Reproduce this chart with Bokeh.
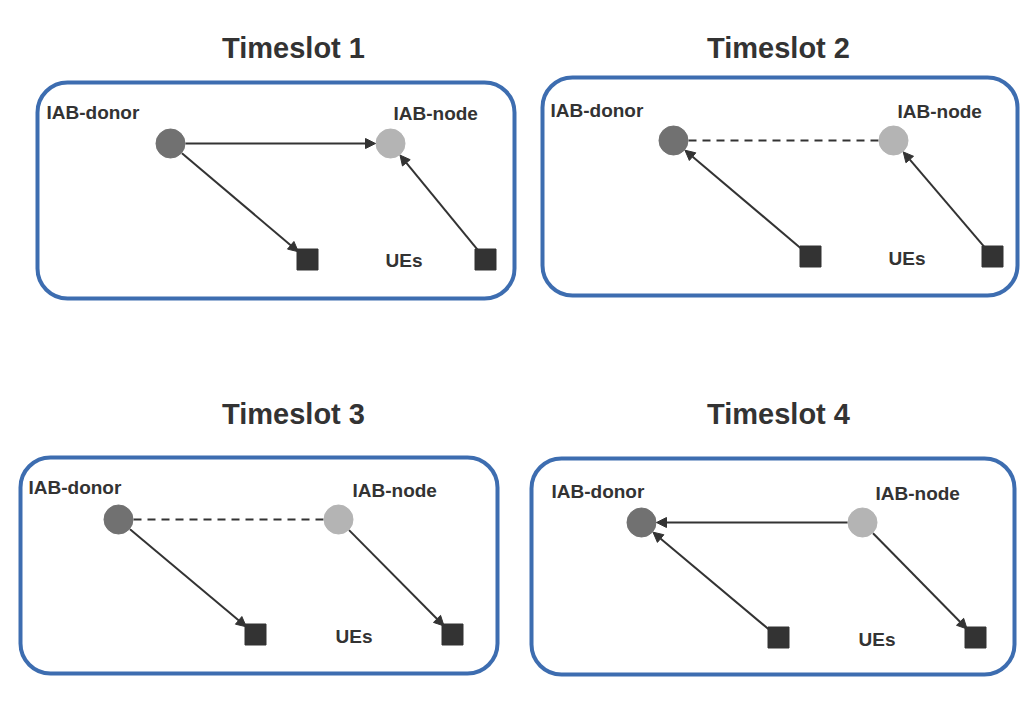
import math

from bokeh.core.properties import value
from bokeh.embed import file_html
from bokeh.models import Arrow, BoxAnnotation, NormalHead, Range1d
from bokeh.plotting import figure
from bokeh.resources import INLINE

# panel boxes: left, right, top, bottom (image pixels)
panels = [(37, 514, 82, 298), (542, 1017, 77, 295), (20, 497, 457, 673), (531, 1014, 458, 674)]
titles = ["Timeslot 1", "Timeslot 2", "Timeslot 3", "Timeslot 4"]
title_pos = [(293, 47), (778, 47), (293, 413), (778, 413)]

donors = [(170, 143), (673, 140), (118, 519), (641, 522)]
nodes = [(390, 143), (893, 140), (338, 519), (862, 522)]
ue_a = [(307, 259), (810, 256), (255, 634), (778, 637)]
ue_b = [(485, 259), (992, 256), (452, 634), (975, 637)]

donor_lbl = [(46, 112), (550, 110), (28, 487), (551, 491)]
node_lbl = [(393, 113), (897, 111), (352, 490), (875, 493)]
ue_lbl = [(385, 260), (888, 258), (335, 636), (858, 639)]

# links per timeslot: (from, to, style) with D=donor, N=node, A/B=UEs
links = [
    [("D", "N", "solid"), ("D", "A", "solid"), ("B", "N", "solid")],
    [("D", "N", "dashed"), ("A", "D", "solid"), ("B", "N", "solid")],
    [("D", "N", "dashed"), ("D", "A", "solid"), ("N", "B", "solid")],
    [("N", "D", "solid"), ("A", "D", "solid"), ("N", "B", "solid")],
]

p = figure(width=1020, height=708, x_range=Range1d(0, 1020), y_range=Range1d(708, 0),
           output_backend="svg", toolbar_location=None, min_border=0)
p.axis.visible = False
p.grid.visible = False
p.outline_line_color = None

dark = "#333333"
font = value("Liberation Sans")

for i in range(4):
    l, r, t, b = panels[i]
    p.add_layout(BoxAnnotation(left=l, right=r, top=t, bottom=b, fill_alpha=0,
                               line_color="#3d6db0", line_alpha=1, line_width=4,
                               border_radius=30))
    pts = {"D": donors[i], "N": nodes[i], "A": ue_a[i], "B": ue_b[i]}
    rad = {"D": 15, "N": 15, "A": 12, "B": 12}
    for f, to, style in links[i]:
        (x0, y0), (x1, y1) = pts[f], pts[to]
        d = math.hypot(x1 - x0, y1 - y0)
        ux, uy = (x1 - x0) / d, (y1 - y0) / d
        xs, ys = x0 + ux * rad[f], y0 + uy * rad[f]
        xe, ye = x1 - ux * rad[to], y1 - uy * rad[to]
        if style == "dashed":
            p.line([xs, xe], [ys, ye], line_color=dark, line_width=2, line_dash="8 6")
        else:
            p.add_layout(Arrow(end=NormalHead(size=10, fill_color=dark, line_color=dark),
                               x_start=xs, y_start=ys, x_end=xe, y_end=ye,
                               line_color=dark, line_width=2))

p.scatter([d[0] for d in donors], [d[1] for d in donors], size=29, color="#717171")
p.scatter([n[0] for n in nodes], [n[1] for n in nodes], size=29, color="#b4b4b4")
p.scatter([u[0] for u in ue_a + ue_b], [u[1] for u in ue_a + ue_b], marker="square",
          size=21, color=dark)

p.text([t[0] for t in title_pos], [t[1] for t in title_pos], text=titles, text_font=font,
       text_font_style="bold", text_font_size="29px", text_color=dark,
       text_align="center", text_baseline="middle")
p.text([t[0] for t in donor_lbl], [t[1] for t in donor_lbl], text=["IAB-donor"] * 4,
       text_font=font, text_font_style="bold", text_font_size="19px", text_color=dark,
       text_align="left", text_baseline="middle")
p.text([t[0] for t in node_lbl], [t[1] for t in node_lbl], text=["IAB-node"] * 4,
       text_font=font, text_font_style="bold", text_font_size="19px", text_color=dark,
       text_align="left", text_baseline="middle")
p.text([t[0] for t in ue_lbl], [t[1] for t in ue_lbl], text=["UEs"] * 4,
       text_font=font, text_font_style="bold", text_font_size="19px", text_color=dark,
       text_align="left", text_baseline="middle")

open("out.html", "w").write(file_html(p, INLINE))
